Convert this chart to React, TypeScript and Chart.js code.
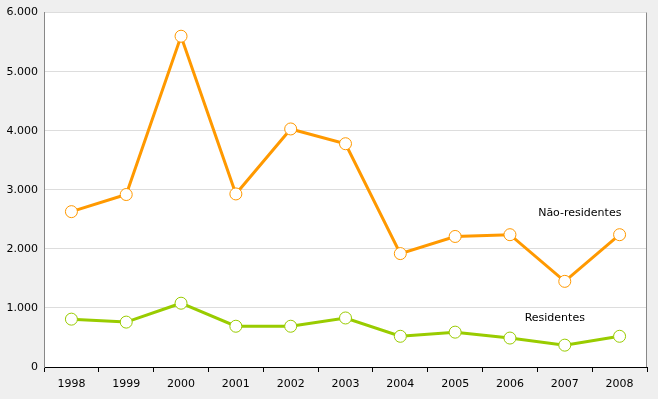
import React, { useEffect, useRef } from "react";
import { Chart, registerables } from "chart.js";

Chart.register(...registerables);

const years = ["1998", "1999", "2000", "2001", "2002", "2003", "2004", "2005", "2006", "2007", "2008"];
const naoResidentes = [2630, 2920, 5600, 2930, 4030, 3780, 1920, 2210, 2240, 1450, 2240];
const residentes = [810, 760, 1080, 690, 690, 830, 520, 590, 490, 370, 520];
const yTicks = [0, 1000, 2000, 3000, 4000, 5000, 6000];

const FONT = "'DejaVu Sans', Verdana, sans-serif";

const fmt = (v: number) => v.toLocaleString("de-DE");

export default function App() {
  const ref = useRef<HTMLCanvasElement | null>(null);
  useEffect(() => {
    document.body.style.margin = "0";
    const ctx = ref.current!.getContext("2d")!;
    const bgPlugin = {
      id: "bg",
      beforeDraw(chart: any) {
        const { ctx, chartArea } = chart;
        ctx.save();
        ctx.fillStyle = "#ffffff";
        ctx.fillRect(chartArea.left, chartArea.top, chartArea.right - chartArea.left, chartArea.bottom - chartArea.top);
        ctx.restore();
      },
      afterDraw(chart: any) {
        const { ctx, chartArea } = chart;
        ctx.save();
        ctx.strokeStyle = "#888888";
        ctx.lineWidth = 1;
        ctx.beginPath();
        ctx.moveTo(Math.round(chartArea.right) - 0.5, chartArea.top);
        ctx.lineTo(Math.round(chartArea.right) - 0.5, chartArea.bottom);
        ctx.stroke();
        ctx.restore();
      },
      afterDatasetsDraw(chart: any) {
        const { ctx } = chart;
        const xs = chart.scales.x;
        const ys = chart.scales.y;
        ctx.save();
        ctx.fillStyle = "#000000";
        ctx.font = "11px " + FONT;
        ctx.textAlign = "center";
        ctx.textBaseline = "middle";
        ctx.fillText("Não-residentes", xs.getPixelForValue(9) + 15, ys.getPixelForValue(2600));
        ctx.fillText("Residentes", xs.getPixelForValue(9) - 10, ys.getPixelForValue(830));
        ctx.restore();
      },
    };
    const chart = new Chart(ctx, {
      type: "line",
      data: {
        labels: years,
        datasets: [
          {
            label: "Não-residentes",
            data: naoResidentes,
            borderColor: "#ff9900",
            backgroundColor: "#ffffff",
            borderWidth: 3,
            pointRadius: 6,
            pointBorderWidth: 1,
            pointBackgroundColor: "#ffffff",
            pointBorderColor: "#ff9900",
            tension: 0,
          },
          {
            label: "Residentes",
            data: residentes,
            borderColor: "#99cc00",
            backgroundColor: "#ffffff",
            borderWidth: 3,
            pointRadius: 6,
            pointBorderWidth: 1,
            pointBackgroundColor: "#ffffff",
            pointBorderColor: "#99cc00",
            tension: 0,
          },
        ],
      },
      options: {
        animation: false,
        responsive: false,
        layout: { padding: { top: 11, right: 11, left: 0, bottom: 0 } },
        plugins: { legend: { display: false }, tooltip: { enabled: false } },
        scales: {
          x: {
            offset: true,
            afterFit: (s: any) => { s.height = 32; },
            grid: { offset: true, drawOnChartArea: false, drawTicks: true, tickLength: 5, color: "#000000" },
            border: { color: "#000000", width: 1 },
            ticks: { color: "#000000", font: { family: FONT, size: 11 }, padding: 6, maxRotation: 0 },
          },
          y: {
            min: 0,
            max: 6000,
            afterFit: (s: any) => { s.width = 44; },
            afterBuildTicks: (s: any) => { s.ticks = yTicks.map((v) => ({ value: v })); },
            grid: { color: (c: any) => (c.tick && c.tick.value === 0 ? "rgba(0,0,0,0)" : "#dddddd"), drawTicks: false },
            border: { color: "#888888", width: 1 },
            ticks: { color: "#000000", font: { family: FONT, size: 11 }, padding: 6, callback: (v: any) => fmt(Number(v)) },
          },
        },
      },
      plugins: [bgPlugin],
    });
    return () => chart.destroy();
  }, []);
  return (
    <div style={{ position: "absolute", left: 0, top: 0, width: 658, height: 399, background: "#efefef" }}>
      <canvas ref={ref} width={658} height={399} style={{ display: "block" }} />
    </div>
  );
}
